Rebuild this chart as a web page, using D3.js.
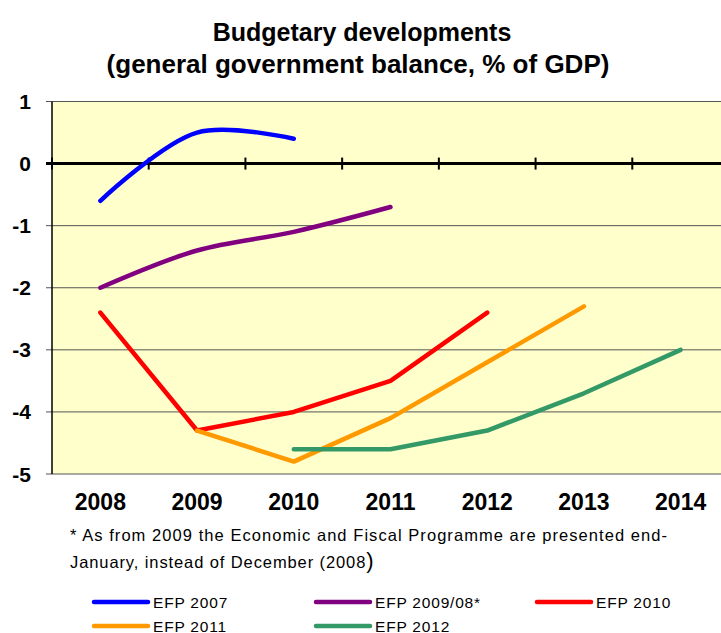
<!DOCTYPE html>
<html>
<head>
<meta charset="utf-8">
<script src="https://cdn.jsdelivr.net/npm/d3@7"></script>
<style>
  body { margin: 0; background: #fff; }
  svg text { font-family: "Liberation Sans", Arial, sans-serif; }
</style>
</head>
<body>
<svg width="721" height="633"></svg>
<script>
// categories and series
var years = ["2008", "2009", "2010", "2011", "2012", "2013", "2014"];
var efp2007 = [-0.6, 0.5, 0.4, null, null, null, null];
var efp2009 = [-2.0, -1.4, -1.1, -0.7, null, null, null];
var efp2010 = [-2.4, -4.3, -4.0, -3.5, -2.4, null, null];
var efp2011 = [null, -4.3, -4.8, -4.1, -3.2, -2.3, null];
var efp2012 = [null, null, -4.6, -4.6, -4.3, -3.7, -3.0];
var yTicks = [1, 0, -1, -2, -3, -4, -5];

var series = [
  { name: "EFP 2007", values: efp2007, color: "#0000ff", smooth: true },
  { name: "EFP 2009/08*", values: efp2009, color: "#800080", smooth: true },
  { name: "EFP 2010", values: efp2010, color: "#ff0000", smooth: false },
  { name: "EFP 2011", values: efp2011, color: "#ff9900", smooth: false },
  { name: "EFP 2012", values: efp2012, color: "#339966", smooth: false }
];

var svg = d3.select("svg");
var plotLeft = 52, plotRight = 729, plotTop = 101.5, plotBottom = 474;

var x = d3.scaleBand().domain(years).range([plotLeft, plotRight]);
var y = d3.scaleLinear().domain([-5, 1]).range([plotBottom, plotTop]);

// title
var title = svg.append("text")
    .attr("text-anchor", "middle")
    .style("font-weight", "bold")
    .style("font-size", "25px");
title.append("tspan").attr("x", 362).attr("y", 41).text("Budgetary developments");
title.append("tspan").attr("x", 358).attr("y", 73).style("font-size", "26px")
    .text("(general government balance, % of GDP)");

// plot background
svg.append("rect")
    .attr("x", plotLeft).attr("y", plotTop)
    .attr("width", plotRight - plotLeft).attr("height", plotBottom - plotTop)
    .attr("fill", "#ffffcc");

// gridlines
svg.append("g")
  .selectAll("line")
  .data(yTicks.filter(function(d) { return d !== 0; }))
  .enter().append("line")
    .attr("x1", plotLeft - 6)
    .attr("x2", plotRight)
    .attr("y1", function(d) { return y(d); })
    .attr("y2", function(d) { return y(d); })
    .attr("stroke", "#555")
    .attr("stroke-width", 1);

// left axis line
svg.append("line")
    .attr("x1", plotLeft).attr("x2", plotLeft)
    .attr("y1", plotTop).attr("y2", plotBottom)
    .attr("stroke", "#000").attr("stroke-width", 1.5);

// y labels
svg.append("g")
  .selectAll("text")
  .data(yTicks)
  .enter().append("text")
    .attr("x", 31)
    .attr("y", function(d) { return y(d) + 7.5; })
    .attr("text-anchor", "end")
    .style("font-weight", "bold")
    .style("font-size", "21px")
    .text(function(d) { return d; });

// zero line with category ticks
svg.append("line")
    .attr("x1", plotLeft - 6).attr("x2", plotRight)
    .attr("y1", y(0)).attr("y2", y(0))
    .attr("stroke", "#000").attr("stroke-width", 3);

svg.append("g")
  .selectAll("line")
  .data(years)
  .enter().append("line")
    .attr("x1", function(d) { return x(d); })
    .attr("x2", function(d) { return x(d); })
    .attr("y1", y(0) - 6)
    .attr("y2", y(0) + 6)
    .attr("stroke", "#000")
    .attr("stroke-width", 2);

// x labels
svg.append("g")
  .selectAll("text")
  .data(years)
  .enter().append("text")
    .attr("x", function(d) { return x(d) + x.bandwidth() / 2; })
    .attr("y", 510)
    .attr("text-anchor", "middle")
    .style("font-weight", "bold")
    .style("font-size", "23px")
    .text(function(d) { return d; });

// series lines
series.forEach(function(s) {
  var pts = years.map(function(yr, i) { return [yr, s.values[i]]; })
      .filter(function(p) { return p[1] !== null; });
  var line = d3.line()
      .x(function(p) { return x(p[0]) + x.bandwidth() / 2; })
      .y(function(p) { return y(p[1]); })
      .curve(s.smooth ? d3.curveCatmullRom.alpha(0.5) : d3.curveLinear);
  svg.append("path")
      .datum(pts)
      .attr("d", line)
      .attr("fill", "none")
      .attr("stroke", s.color)
      .attr("stroke-width", 4.5)
      .attr("stroke-linecap", "round")
      .attr("stroke-linejoin", "round");
});

// footnote
svg.append("text")
    .attr("x", 70).attr("y", 541)
    .attr("textLength", 597)
    .attr("lengthAdjust", "spacing")
    .style("font-size", "16.5px")
    .text("* As from 2009 the Economic and Fiscal Programme are presented end-");
var fn2 = svg.append("text")
    .attr("x", 70).attr("y", 568)
    .style("font-size", "16.5px")
    .style("letter-spacing", "0.9px");
fn2.append("tspan").text("January, instead of December (2008");
fn2.append("tspan").style("font-size", "22px").style("letter-spacing", "0").text(")");

// legend
var legendPos = [[94, 602], [316, 602], [537, 602], [94, 626], [316, 626]];
series.forEach(function(s, i) {
  var p = legendPos[i];
  svg.append("line")
      .attr("x1", p[0]).attr("x2", p[0] + 54)
      .attr("y1", p[1]).attr("y2", p[1])
      .attr("stroke", s.color)
      .attr("stroke-width", 4.5)
      .attr("stroke-linecap", "round");
  svg.append("text")
      .attr("x", p[0] + 59).attr("y", p[1] + 5.5)
      .style("font-size", "15.5px")
      .style("letter-spacing", "0.8px")
      .text(s.name);
});
</script>
</body>
</html>
